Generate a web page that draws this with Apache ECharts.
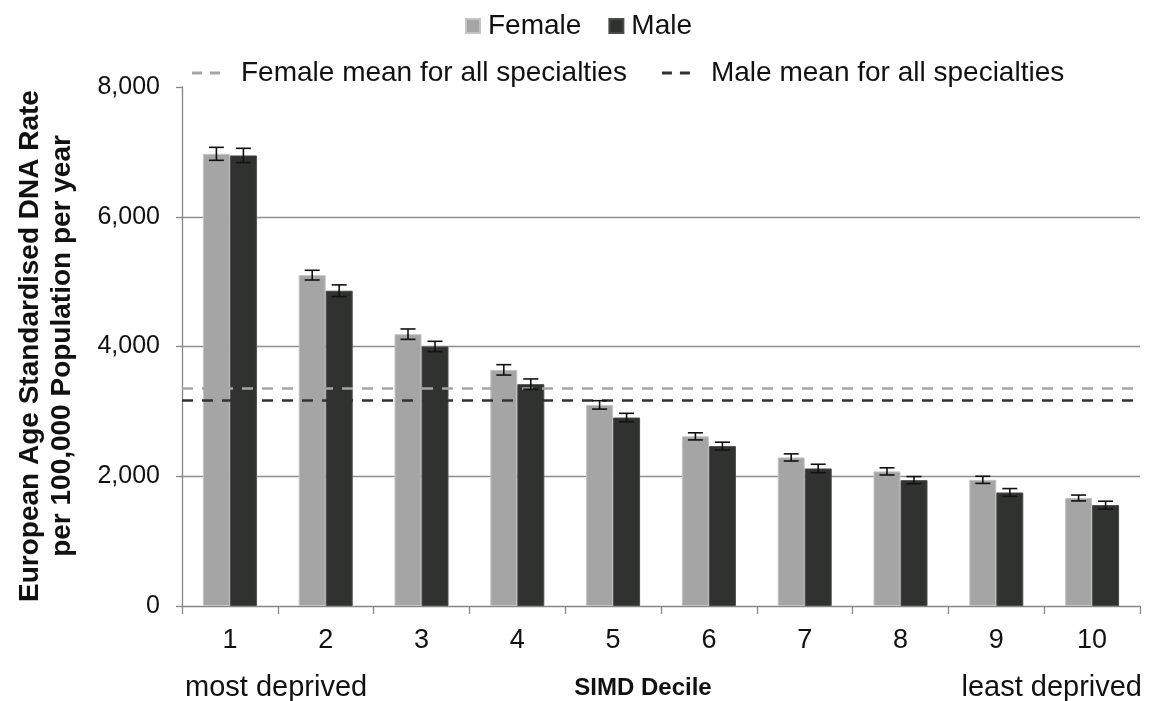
<!DOCTYPE html>
<html>
<head>
<meta charset="utf-8">
<title>DNA rate by SIMD decile</title>
<script src="https://cdn.jsdelivr.net/npm/echarts@6/dist/echarts.min.js"></script>
<style>
  html, body { margin: 0; padding: 0; background: #ffffff; }
  #chart { width: 1150px; height: 701px; }
</style>
</head>
<body>
<div id="chart"></div>
<script>
// SIMD deciles (1 = most deprived, 10 = least deprived)
const deciles = ['1', '2', '3', '4', '5', '6', '7', '8', '9', '10'];

// European age standardised DNA rate per 100,000 population per year
const femaleRate = [6970, 5100, 4190, 3640, 3100, 2615, 2290, 2075, 1945, 1665];
const maleRate   = [6945, 4860, 4000, 3420, 2905, 2465, 2120, 1940, 1750, 1555];

// Half-width of the 95% confidence interval for each bar
const femaleCI = [100, 75, 80, 80, 65, 55, 55, 55, 55, 45];
const maleCI   = [110, 90, 80, 80, 65, 60, 65, 55, 60, 60];

// Means across all specialties
const femaleMean = 3360;
const maleMean = 3165;

// Value axis ticks
const yTicks = [0, 2000, 4000, 6000, 8000];

const FONT = '"Liberation Sans", Arial, sans-serif';
const FEMALE_COLOR = '#a5a5a5';
const MALE_COLOR = '#303230';
const BAR_W = 27;
const CAP_W = 15;

function errorBars(values, ci, side) {
  return {
    type: 'custom',
    z: 6,
    silent: true,
    encode: { x: 0, y: [1, 2] },
    data: values.map((v, i) => [i, v - ci[i], v + ci[i]]),
    renderItem(params, api) {
      const i = api.value(0);
      const lo = api.coord([i, api.value(1)]);
      const hi = api.coord([i, api.value(2)]);
      const x = lo[0] + side * BAR_W / 2;
      const c = CAP_W / 2;
      const st = { stroke: '#111111', lineWidth: 1.6 };
      return {
        type: 'group',
        children: [
          { type: 'line', shape: { x1: x, y1: hi[1], x2: x, y2: lo[1] }, style: st },
          { type: 'line', shape: { x1: x - c, y1: hi[1], x2: x + c, y2: hi[1] }, style: st },
          { type: 'line', shape: { x1: x - c, y1: lo[1], x2: x + c, y2: lo[1] }, style: st }
        ]
      };
    }
  };
}

function meanLine(name, value, color) {
  return {
    name: name,
    type: 'line',
    data: [],
    z: 5,
    itemStyle: { color: color },
    lineStyle: { color: color },
    markLine: {
      silent: true,
      symbol: 'none',
      label: { show: false },
      lineStyle: { color: color, type: [11, 9], width: 2.6 },
      data: [{ yAxis: value }]
    }
  };
}

const chart = echarts.init(document.getElementById('chart'), null, { renderer: 'canvas' });

const dashIcon = 'path://M0,0H10V3H0Z M18,0H28V3H18Z';

chart.setOption({
  backgroundColor: '#ffffff',
  animation: false,
  textStyle: { fontFamily: FONT },
  grid: { left: 182, right: 10, top: 87, bottom: 95, containLabel: false },
  legend: [
    {
      left: 465, top: 12, padding: 0,
      itemWidth: 14, itemHeight: 14, itemGap: 27,
      textStyle: { fontFamily: FONT, fontSize: 28, color: '#111111', padding: [0, 0, 0, 3] },
      data: [
        { name: 'Female', icon: 'rect' },
        { name: 'Male', icon: 'rect' }
      ]
    },
    {
      left: 192, top: 59, padding: 0,
      itemWidth: 28, itemHeight: 3, itemGap: 35,
      textStyle: { fontFamily: FONT, fontSize: 28, color: '#111111', padding: [0, 0, 0, 16] },
      data: [
        { name: 'Female mean for all specialties', icon: dashIcon, itemStyle: { color: FEMALE_COLOR } },
        { name: 'Male mean for all specialties', icon: dashIcon, itemStyle: { color: MALE_COLOR } }
      ]
    }
  ],
  xAxis: {
    type: 'category',
    data: deciles,
    boundaryGap: true,
    axisLine: { lineStyle: { color: '#868686', width: 1.3 } },
    axisTick: { show: true, alignWithLabel: false, length: 8, lineStyle: { color: '#868686', width: 1.3 } },
    axisLabel: { color: '#111111', fontSize: 27, fontFamily: FONT, margin: 21 },
    splitLine: { show: false }
  },
  yAxis: {
    type: 'value',
    min: yTicks[0],
    max: yTicks[yTicks.length - 1],
    interval: yTicks[1] - yTicks[0],
    axisLine: { show: true, lineStyle: { color: '#868686', width: 1.3 } },
    axisTick: { show: true, length: 6, lineStyle: { color: '#868686', width: 1.3 } },
    axisLabel: {
      color: '#111111', fontSize: 25, fontFamily: FONT, margin: 22,
      formatter: v => v.toLocaleString('en-US')
    },
    splitLine: {
      show: true,
      showMinLine: false,
      showMaxLine: false,
      lineStyle: { color: '#8e8e8e', width: 1.3 }
    }
  },
  graphic: [
    {
      type: 'text', x: 46, y: 346, rotation: Math.PI / 2,
      style: {
        text: 'European Age Standardised DNA Rate\nper 100,000 Population per year',
        font: 'bold 28px ' + FONT, fill: '#111111',
        textAlign: 'center', textVerticalAlign: 'middle', lineHeight: 32
      }
    },
    {
      type: 'text', x: 185, y: 688,
      style: { text: 'most deprived', font: '29px ' + FONT, fill: '#111111', textAlign: 'left', textVerticalAlign: 'middle' }
    },
    {
      type: 'text', x: 643, y: 688,
      style: { text: 'SIMD Decile', font: 'bold 24px ' + FONT, fill: '#111111', textAlign: 'center', textVerticalAlign: 'middle' }
    },
    {
      type: 'text', x: 1142, y: 688,
      style: { text: 'least deprived', font: '29px ' + FONT, fill: '#111111', textAlign: 'right', textVerticalAlign: 'middle' }
    }
  ],
  series: [
    {
      name: 'Female', type: 'bar', data: femaleRate, barWidth: BAR_W, barGap: '0%', z: 2,
      itemStyle: { color: FEMALE_COLOR, borderColor: '#c4c4c4', borderWidth: 1 }
    },
    {
      name: 'Male', type: 'bar', data: maleRate, barWidth: BAR_W, barGap: '0%', z: 2,
      itemStyle: { color: MALE_COLOR, borderColor: '#4a4a4a', borderWidth: 1 }
    },
    errorBars(femaleRate, femaleCI, -1),
    errorBars(maleRate, maleCI, 1),
    meanLine('Female mean for all specialties', femaleMean, FEMALE_COLOR),
    meanLine('Male mean for all specialties', maleMean, MALE_COLOR)
  ]
});
</script>
</body>
</html>
